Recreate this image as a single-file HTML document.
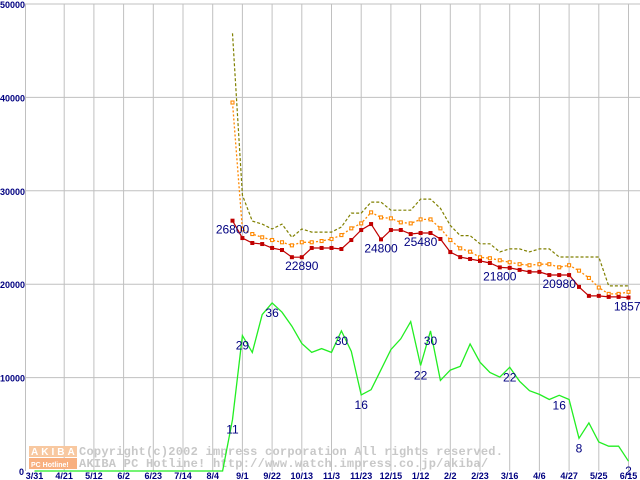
<!DOCTYPE html>
<html><head><meta charset="utf-8"><style>
html,body{margin:0;padding:0;background:#fff;width:640px;height:480px;overflow:hidden}
svg{display:block}
text{font-family:"Liberation Sans",sans-serif}
</style></head><body>
<svg id="chart" width="640" height="480" viewBox="0 0 640 480" xmlns="http://www.w3.org/2000/svg"></svg>
<script>
const tickLabels=["3/31","4/21","5/12","6/2","6/23","7/14","8/4","9/1","9/22","10/13","11/3","11/23","12/15","1/12","2/2","2/23","3/16","4/6","4/27","5/25","6/15"];
const yTicks=[0,10000,20000,30000,40000,50000];
const startIndex=20;
const minPrice=[26800,24940,24410,24300,23880,23660,22890,22890,23880,23880,23880,23770,24730,25800,26440,24800,25800,25800,25370,25480,25480,24840,23440,22900,22700,22490,22270,21800,21750,21530,21320,21320,20980,20980,20980,19710,18750,18750,18640,18640,18570];
const avgPrice=[39450,25870,25370,25020,24730,24490,24160,24490,24490,24620,24840,25260,25980,26510,27690,27150,27050,26620,26510,26940,26940,25980,24730,23840,23480,22880,22780,22560,22350,22140,22030,22140,22140,21810,22030,21450,20670,19640,18960,18960,19180];
const maxPrice=[46860,29540,26760,26440,25910,26440,25020,25910,25580,25580,25580,26120,27610,27610,28790,28790,27920,27920,27920,29110,29110,28130,26300,25200,25200,24330,24330,23460,23780,23780,23460,23780,23780,22910,22910,22910,22910,22910,19820,19820,19820];
const shopCount=[0,0,0,0,0,0,0,0,0,0,0,0,0,0,0,0,0,0,0,0,11,29,25.4,33.5,36,34,31,27.3,25.4,26.2,25.4,30,25.6,16.3,17.4,21.7,26,28.3,32,22.6,30,19.4,21.6,22.4,27.2,23.3,21.1,20.1,22.2,19.2,17.2,16.4,15.3,16.2,15.3,7,10.3,6.2,5.3,5.3,2.1];
const priceLabelIdx=[20,27,35,39,47,53,60];
const priceLabelText=["26800","22890","24800","25480","21800","20980","18570"];
const countLabelIdx=[20,21,24,31,33,39,40,48,53,55,60];
const countLabelText=["11","29","36","30","16","22","30","22","16","8","2"];
const countUnit=500;

const NS="http://www.w3.org/2000/svg";
const svg=document.getElementById('chart');
const X0=34.5,DX=9.9,YT=4,YB=471,YMAX=50000;
function xs(i){return X0+i*DX;}
function ys(v){return YB-(v/YMAX)*(YB-YT);}
function el(tag,attrs,parent){const e=document.createElementNS(NS,tag);for(const k in attrs)e.setAttribute(k,attrs[k]);(parent||svg).appendChild(e);return e;}

const grid=el('g',{});


yTicks.forEach(v=>{if(v>0){const l=el('line',{x1:25,x2:640,y1:ys(v),y2:ys(v),stroke:'#c0c0c0','stroke-width':1},grid);

}});
el('line',{x1:25.5,x2:25.5,y1:YT,y2:YB,stroke:'#c0c0c0'},grid);
tickLabels.forEach((t,k)=>{const x=xs(k*3);
if(k>0){const l=el('line',{x1:x,x2:x,y1:YT,y2:YB,stroke:'#c0c0c0'},grid);

}
const tx=el('text',{x:x,y:479,'text-anchor':'middle','font-size':9,'font-weight':'bold',fill:'#000080'});tx.textContent=t;

});
yTicks.forEach(v=>{const s=v===0?'0':String(v);
const tx=el('text',{x:v===0?24:0,y:ys(v)+4,'text-anchor':v===0?'end':'start','font-size':9,'font-weight':'bold',fill:'#000080'});tx.textContent=s;

});

const wm=el('g',{});


el('rect',{x:29,y:446,width:48,height:11,fill:'#f8c8a0'},wm);
el('rect',{x:29,y:458,width:48,height:11,fill:'#f8b080'},wm);
const a=el('text',{x:31,y:455,'font-size':10,'font-weight':'bold',fill:'#fff','letter-spacing':'3'},wm);a.textContent='AKIBA';
const b=el('text',{x:31,y:467,'font-size':7,'font-weight':'bold',fill:'#fff'},wm);b.textContent='PC Hotline!';
const c1=el('text',{x:79,y:455,'font-size':12,'font-weight':'bold',fill:'#c8c8c8','style':'font-family:"Liberation Mono",monospace','letter-spacing':'0.24'},wm);c1.textContent='Copyright(c)2002 impress corporation All rights reserved.';
const c2=el('text',{x:79,y:467,'font-size':12,'font-weight':'bold',fill:'#c8c8c8','style':'font-family:"Liberation Mono",monospace','letter-spacing':'0.24'},wm);c2.textContent='AKIBA PC Hotline!  http://www.watch.impress.co.jp/akiba/';

function pts(arr,off,scale){return arr.map((v,j)=>xs(j+off).toFixed(1)+','+ys(v*scale).toFixed(1)).join(' ');}
const g=el('polyline',{points:pts(shopCount,0,countUnit),fill:'none',stroke:'#22ee22','stroke-width':1.3});


const mx=el('polyline',{points:pts(maxPrice,startIndex,1),fill:'none',stroke:'#808000','stroke-width':1.2,'stroke-dasharray':'3,2'});


const av=el('polyline',{points:pts(avgPrice,startIndex,1),fill:'none',stroke:'#ff8800','stroke-width':1.3,'stroke-dasharray':'2,2'});


avgPrice.forEach((v,j)=>{const r=el('rect',{x:xs(j+startIndex)-1.5,y:ys(v)-1.5,width:3,height:3,fill:'#fff',stroke:'#ff8800','stroke-width':1.1});

});
const mn=el('polyline',{points:pts(minPrice,startIndex,1),fill:'none',stroke:'#c00000','stroke-width':1.2});


minPrice.forEach((v,j)=>{const r=el('rect',{x:xs(j+startIndex)-2,y:ys(v)-2,width:4,height:4,fill:'#c00000'});

});
priceLabelIdx.forEach((i,k)=>{const v=minPrice[i-startIndex];
const t=el('text',{x:xs(i)+(k===6?2:0),y:ys(v)+13,'text-anchor':'middle','font-size':12,fill:'#000080'});t.textContent=priceLabelText[k];

});
countLabelIdx.forEach((i,k)=>{const v=shopCount[i];
const t=el('text',{x:xs(i),y:ys(v*countUnit)+14,'text-anchor':'middle','font-size':12,fill:'#000080'});t.textContent=countLabelText[k];

});
</script>
</body></html>
